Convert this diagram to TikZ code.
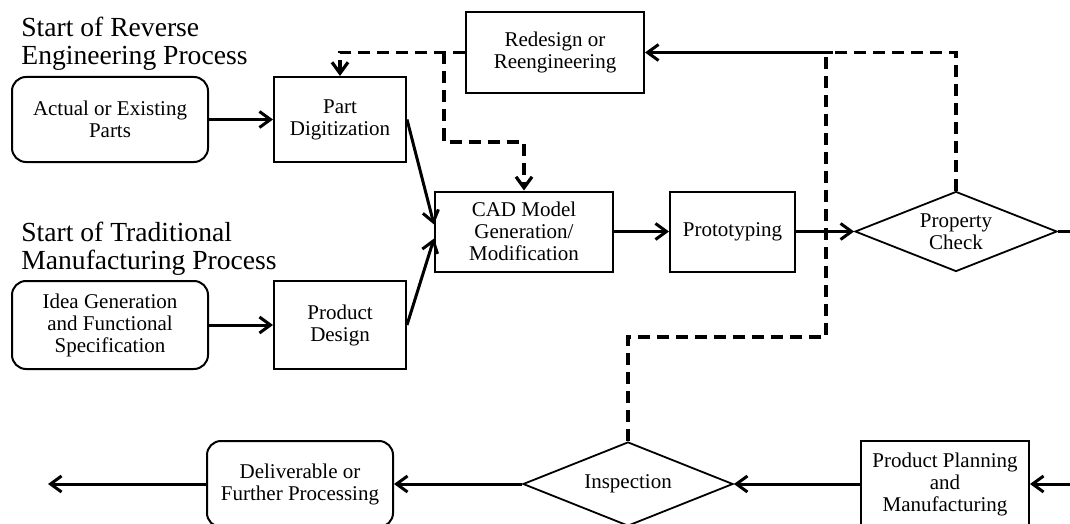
\documentclass[tikz,border=0pt]{standalone}
\usepackage{fontspec}
\setmainfont{Liberation Serif}
\usetikzlibrary{arrows.meta,shapes.geometric,calc}

\begin{document}
\begin{tikzpicture}[x=0.5pt,y=-0.5pt,
	box/.style={draw,line width=1pt,inner sep=0pt,align=center,font=\fontsize{10.5}{11}\selectfont},
	rbox/.style={box,rounded corners=7pt},
	check/.style={box,diamond,line width=0.9pt,aspect=2.5},
	title/.style={anchor=base west,inner sep=0pt,align=left,font=\fontsize{13.8}{14}\selectfont},
	line/.style={line width=1.5pt},
	flow/.style={line,-{Straight Barb[length=5.5pt,width=8pt]}},
	fb/.style={line width=1.6pt,dash pattern=on 6pt off 3.5pt},
	back/.style={fb,-{Straight Barb[length=5.5pt,width=8pt]}}]
				\useasboundingbox (0,0) rectangle (1070,524);
				\clip (0,0) rectangle (1070,524);
				
				\node[title] (revtitle) at (21,65) {Start of Reverse\\Engineering Process};
				\node[title] (tradtitle) at (21,269) {Start of Traditional\\Manufacturing Process};
				
				\node[rbox,minimum width=98pt,minimum height=42.5pt] (actual) at (110,119.5) {Actual or Existing\\Parts};
				\node[box,minimum width=66pt,minimum height=42.5pt] (digit) at (340,119.5) {Part\\Digitization};
				\node[box,minimum width=89pt,minimum height=40.5pt] (redesign) at (555,52.5) {Redesign or\\Reengineering};
				\node[box,minimum width=89pt,minimum height=40pt] (cad) at (524,231.5) {CAD Model\\Generation/\\Modification};
				\node[box,minimum width=62.5pt,minimum height=40pt] (proto) at (732.5,231.5) {Prototyping};
				\node[check,minimum width=101pt,minimum height=40pt] (property) at (956,231.5) {Property\\Check};
				\node[rbox,minimum width=98pt,minimum height=44pt] (idea) at (110,325) {Idea Generation\\and Functional\\Specification};
				\node[box,minimum width=66pt,minimum height=44pt] (design) at (340,325) {Product\\Design};
				\node[rbox,minimum width=93pt,minimum height=43pt] (deliver) at (300,484) {Deliverable or\\Further Processing};
				\node[check,minimum width=105pt,minimum height=42pt] (inspect) at (628,484) {Inspection};
				\node[box,minimum width=84pt,minimum height=43pt] (planning) at (945,484) {Product Planning\\and\\Manufacturing};
				
				\coordinate (outprop) at (1070,231.5);
				\coordinate (inplan) at (1070,484);
				\coordinate (outend) at (48,484);
				\coordinate (split) at (833,52.5);
				\coordinate (drop) at (444,142);
				\coordinate (turn) at (826,337);
				
				% main flow
				\draw[flow] (actual) -- (digit);
				\draw[flow] (idea) -- (design);
				\draw[flow] (digit.east) -- ($(cad.west)+(0,-7)$);
				\draw[flow] (design.east) -- ($(cad.west)+(0,7)$);
				\draw[flow] (cad) -- (proto);
				\draw[flow] (proto) -- (property);
				\draw[line] (property.east) -- (outprop);
				\draw[flow] (inplan) -- (planning);
				\draw[flow] (planning) -- (inspect);
				\draw[flow] (inspect) -- (deliver);
				\draw[flow] (deliver) -- (outend);
				
				% feedback
				\draw[back] (redesign.west) -| (digit.north);
				\draw[back] (drop |- redesign.west) -- (drop) -| (cad.north);
				\draw[fb] (property.north) |- (split);
				\draw[fb] (inspect.north) |- (turn) -- (turn |- split);
				\draw[flow] (split) -- (redesign.east);
			\end{tikzpicture}
\end{document}
